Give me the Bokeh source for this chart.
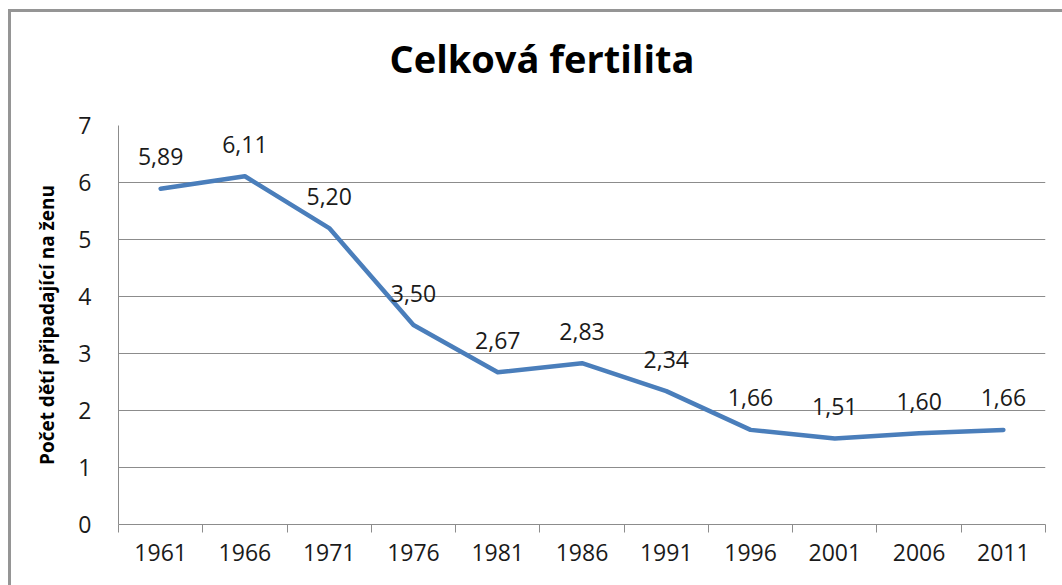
from bokeh.plotting import figure
from bokeh.models import Range1d, FixedTicker, ColumnDataSource, Title
from bokeh.core.properties import value
from bokeh.embed import file_html
from bokeh.resources import INLINE

years = ["1961", "1966", "1971", "1976", "1981", "1986", "1991", "1996", "2001", "2006", "2011"]
fertility = [5.89, 6.11, 5.20, 3.50, 2.67, 2.83, 2.34, 1.66, 1.51, 1.60, 1.66]
y_ticks = [0, 1, 2, 3, 4, 5, 6, 7]
title_text = "Celková fertilita"
y_label = "Počet dětí připadající na ženu"

FONT = "Open Sans"
GRAY = "#8c8c8c"
BLUE = "#4A7EBB"

n = len(years)
centers = [i + 0.5 for i in range(n)]
labels = [f"{v:.2f}".replace(".", ",") for v in fertility]
src = ColumnDataSource(dict(x=centers, y=fertility, lab=labels))

p = figure(width=1054, height=576, output_backend="svg", toolbar_location=None,
           x_range=Range1d(0, n), y_range=Range1d(0, 7),
           min_border_left=107, min_border_top=113, min_border_right=20, min_border_bottom=64)
p.styles = {"margin-left": "8px", "margin-top": "9px",
            "border-top": "3px solid #959595", "border-left": "3px solid #959595",
            "box-sizing": "border-box"}
p.outline_line_color = None
p.background_fill_color = "white"
p.border_fill_color = "white"

p.title.text = ""
# spacer between frame and title, then the title itself
p.add_layout(Title(text=" ", text_font=FONT, text_font_size="10px", standoff=26), "above")
p.add_layout(Title(text=title_text, align="left", offset=271, standoff=0,
                   text_font=FONT, text_font_size="38px", text_font_style="bold",
                   text_color="#000000"), "above")

# x axis: labels at category centres, ticks at boundaries
p.xaxis.ticker = FixedTicker(ticks=centers, minor_ticks=list(range(n + 1)))
p.xaxis.major_label_overrides = {c: y for c, y in zip(centers, years)}
p.xaxis.major_tick_line_color = None
p.xaxis.minor_tick_in = 0
p.xaxis.minor_tick_out = 8
p.xaxis.minor_tick_line_color = GRAY
p.xaxis.axis_line_color = GRAY
p.xaxis.major_label_text_font = FONT
p.xaxis.major_label_text_font_size = "23px"
p.xaxis.major_label_text_color = "#1a1a1a"
p.xaxis.major_label_standoff = 11
p.xgrid.grid_line_color = None

p.yaxis.ticker = FixedTicker(ticks=y_ticks)
p.yaxis.major_tick_line_color = None
p.yaxis.minor_tick_line_color = None
p.yaxis.axis_line_color = GRAY
p.yaxis.major_label_text_font = FONT
p.yaxis.major_label_text_font_size = "23px"
p.yaxis.major_label_text_color = "#1a1a1a"
p.yaxis.major_label_standoff = 21
p.yaxis.axis_label = y_label
p.yaxis.axis_label_text_font = FONT
p.yaxis.axis_label_text_font_style = "bold"
p.yaxis.axis_label_text_font_size = "19px"
p.yaxis.axis_label_text_color = "#000000"
p.yaxis.axis_label_standoff = 15
p.ygrid.grid_line_color = GRAY
p.ygrid.grid_line_width = 1

p.line("x", "y", source=src, line_color=BLUE, line_width=4.5, line_cap="round", line_join="round")
p.text("x", "y", text="lab", source=src, text_align="center", text_baseline="alphabetic",
       y_offset=-32, text_font=value(FONT), text_font_size="23px", text_color="#1a1a1a")

open("out.html", "w").write(file_html(p, INLINE))
